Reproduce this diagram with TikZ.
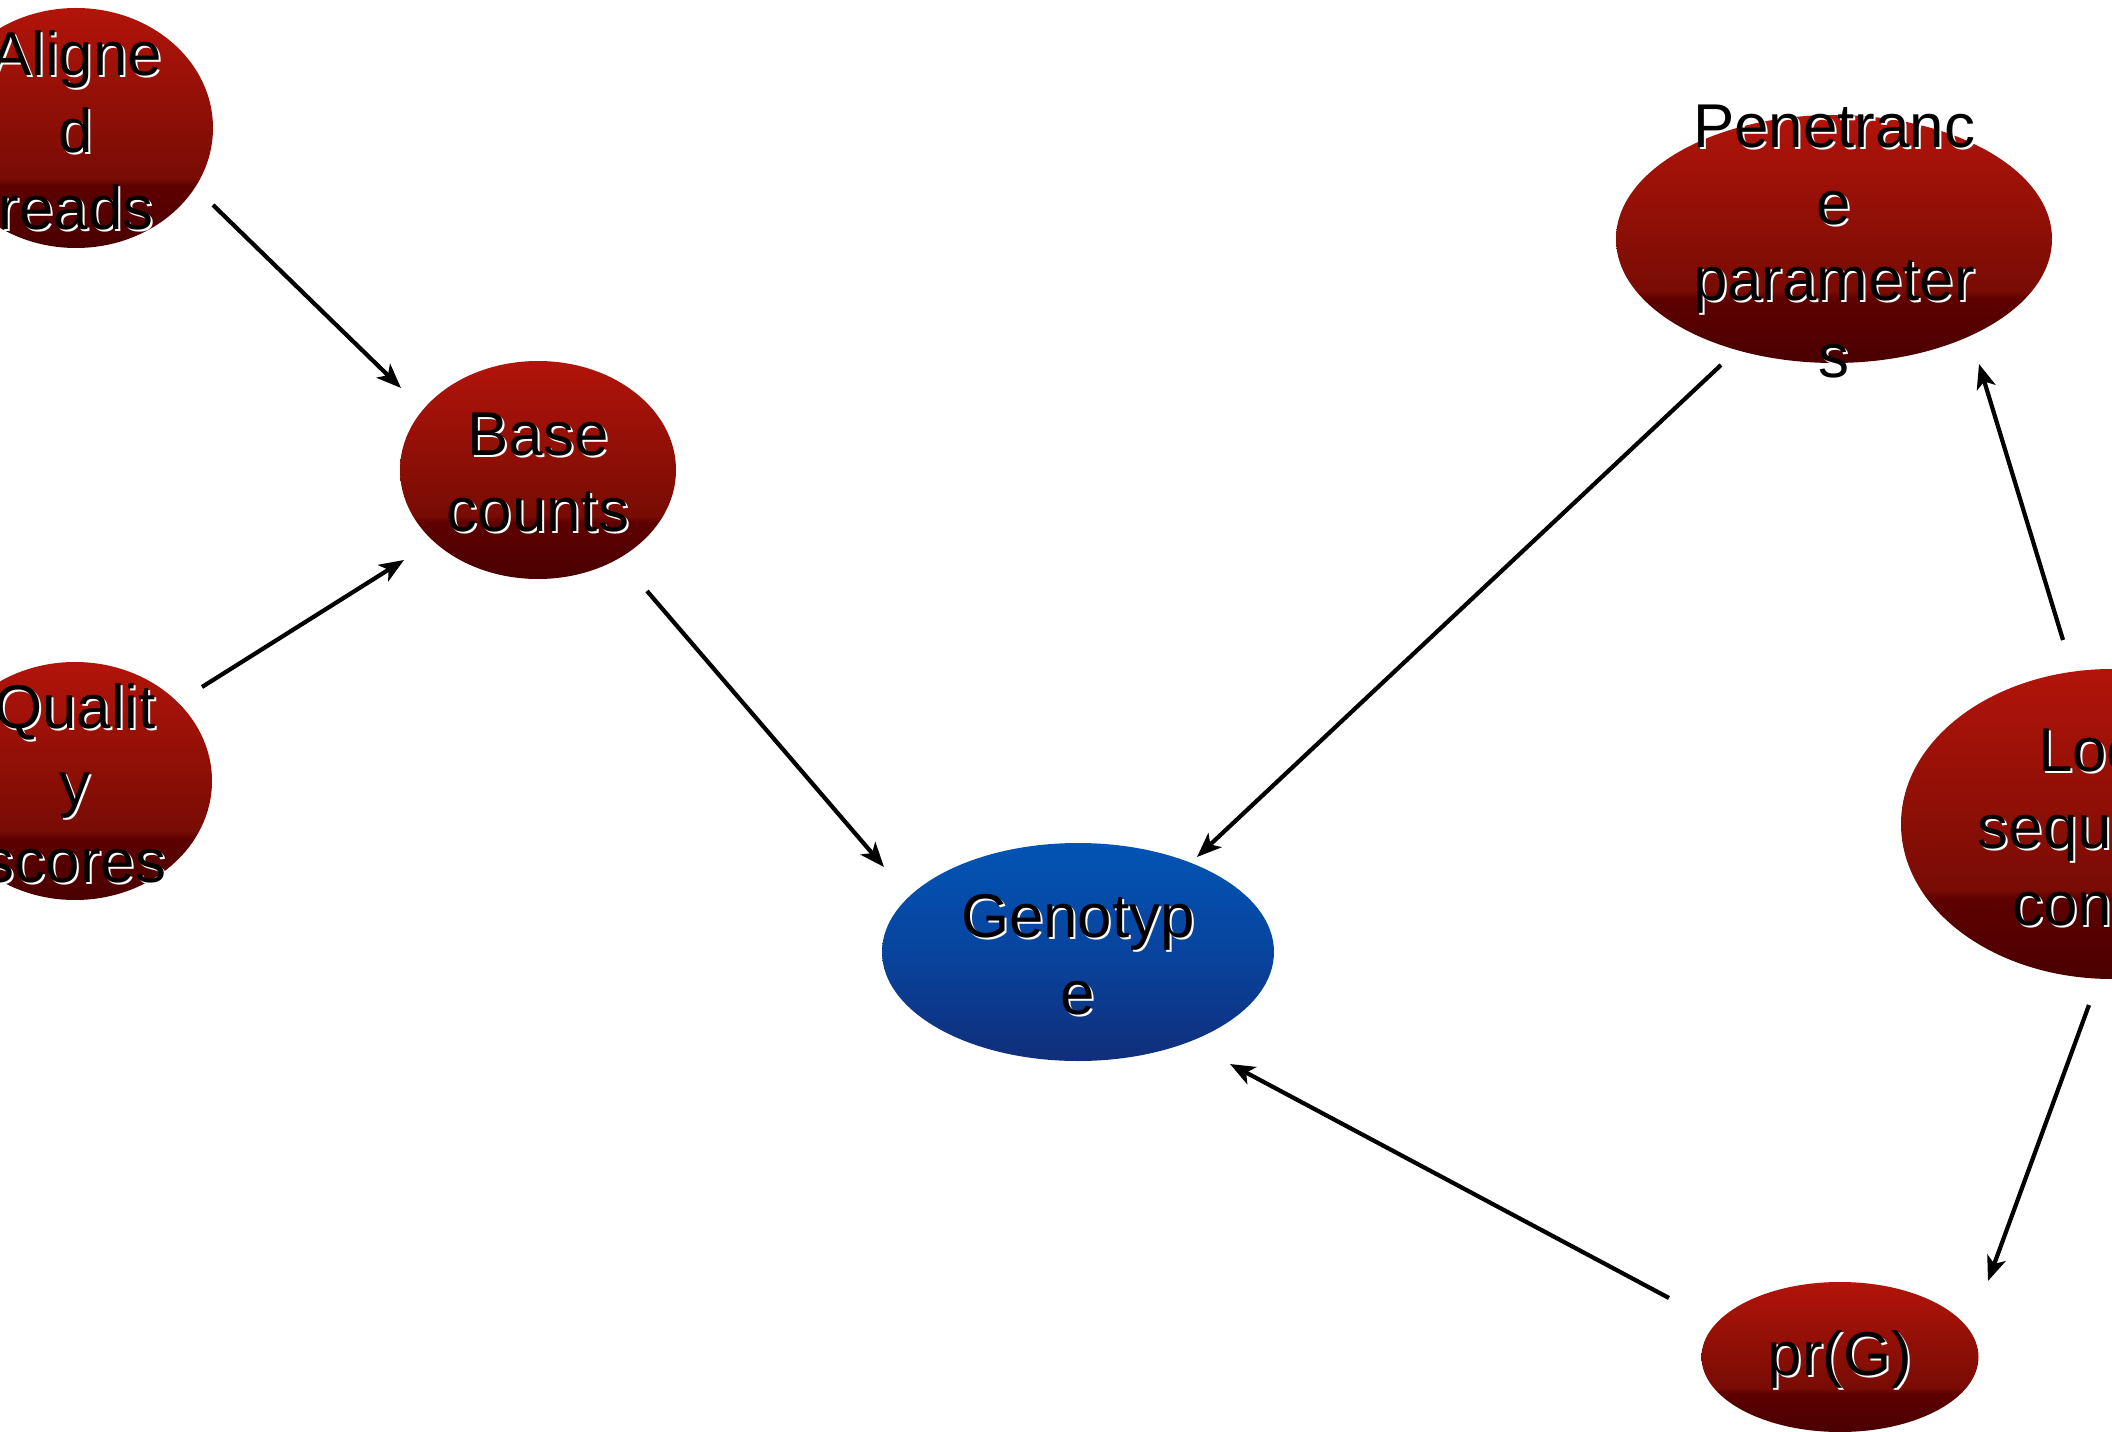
\documentclass[tikz,border=0pt]{standalone}
\usepackage{fontspec}
\setmainfont{Liberation Sans}
\usetikzlibrary{shapes.geometric,arrows.meta,calc}
\definecolor{rdT}{RGB}{178,20,10}
\definecolor{rdM}{RGB}{120,12,4}
\definecolor{rdC}{RGB}{94,0,0}
\definecolor{rdB}{RGB}{74,0,0}
\definecolor{buT}{RGB}{2,84,180}
\definecolor{buM}{RGB}{8,68,158}
\definecolor{buB}{RGB}{16,46,122}
\pgfdeclareverticalshading{redsh}{100bp}{color(0bp)=(rdB); color(25bp)=(rdB); color(38bp)=(rdC); color(39.5bp)=(rdM); color(75bp)=(rdT); color(100bp)=(rdT)}
\pgfdeclareverticalshading{bluesh}{100bp}{color(0bp)=(buB); color(25bp)=(buB); color(50bp)=(buM); color(75bp)=(buT); color(100bp)=(buT)}
\tikzset{
  blob/.style={ellipse, inner sep=0pt, draw=none},
  redblob/.style={blob, shading=redsh},
  blueblob/.style={blob, shading=bluesh},
  lbl/.style={align=center, font=\fontsize{17.6}{21.8}\selectfont, text=black, inner sep=0pt},
  shd/.style={lbl, text=white},
  arr/.style={-{Stealth[length=7pt,width=5.5pt,inset=1.8pt]}, line width=1.2pt, draw=black}
}
\begin{document}
\begin{tikzpicture}
\useasboundingbox (0,0) rectangle (21.12,-14.32);
\clip (0,0) rectangle (21.12,-14.32);
\fill[white] (0,0) rectangle (21.12,-14.32);

% ellipses
\node[redblob, minimum width=2.74cm, minimum height=2.40cm] (al) at (0.76,-1.28) {};
\node[redblob, minimum width=2.74cm, minimum height=2.38cm] (qs) at (0.75,-7.81) {};
\node[redblob, minimum width=2.76cm, minimum height=2.18cm] (bc) at (5.38,-4.70) {};
\node[blueblob, minimum width=3.92cm, minimum height=2.18cm] (ge) at (10.78,-9.52) {};
\node[redblob, minimum width=4.36cm, minimum height=2.48cm] (pe) at (18.34,-2.39) {};
\node[redblob, minimum width=4.22cm, minimum height=3.10cm] (lc) at (21.12,-8.24) {};
\node[redblob, minimum width=2.77cm, minimum height=1.50cm] (pr) at (18.40,-13.57) {};

% labels (white shadow, then black text)
\node[shd] (al-s) at ($(al)+(0.02,-0.045)$) {Aligne\\d\\reads};
\node[lbl] (al-t) at ($(al)+(0,-0.025)$) {Aligne\\d\\reads};
\node[shd] (qs-s) at ($(qs)+(0.02,-0.045)$) {Qualit\\y\\scores};
\node[lbl] (qs-t) at ($(qs)+(0,-0.025)$) {Qualit\\y\\scores};
\node[shd] (bc-s) at ($(bc)+(0.02,-0.045)$) {Base\\counts};
\node[lbl] (bc-t) at ($(bc)+(0,-0.025)$) {Base\\counts};
\node[shd] (ge-s) at ($(ge)+(0.02,-0.045)$) {Genotyp\\e};
\node[lbl] (ge-t) at ($(ge)+(0,-0.025)$) {Genotyp\\e};
\node[shd] (pe-s) at ($(pe)+(0.02,-0.045)$) {Penetranc\\e\\parameter\\s};
\node[lbl] (pe-t) at ($(pe)+(0,-0.025)$) {Penetranc\\e\\parameter\\s};
\node[shd] (lc-s) at ($(lc)+(0.02,-0.045)$) {Local\\sequence\\context};
\node[lbl] (lc-t) at ($(lc)+(0,-0.025)$) {Local\\sequence\\context};
\node[shd] (pr-s) at ($(pr)+(0.02,-0.045)$) {pr(G)};
\node[lbl] (pr-t) at ($(pr)+(0,-0.025)$) {pr(G)};

% connectors
\draw[arr] ($(al)+(1.37,-0.77)$) -- ($(bc)+(-1.37,0.82)$);
\draw[arr] ($(qs)+(1.27,0.94)$) -- ($(bc)+(-1.34,-0.90)$);
\draw[arr] ($(bc)+(1.09,-1.21)$) -- ($(ge)+(-1.94,0.85)$);
\draw[arr] ($(pe)+(-1.13,-1.26)$) -- ($(ge)+(1.19,0.95)$);
\draw[arr] ($(lc)+(-0.49,1.84)$) -- ($(pe)+(1.45,-1.25)$);
\draw[arr] ($(lc)+(-0.23,-1.81)$) -- ($(pr)+(1.48,0.76)$);
\draw[arr] ($(pr)+(-1.71,0.59)$) -- ($(ge)+(1.52,-1.12)$);
\end{tikzpicture}
\end{document}
